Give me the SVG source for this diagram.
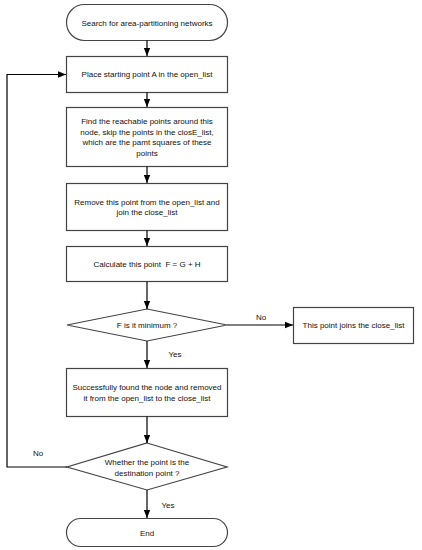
<svg xmlns="http://www.w3.org/2000/svg" width="422" height="550" viewBox="0 0 422 550">
<defs>
<marker id="arr" viewBox="0 0 8 8" refX="8" refY="4" markerWidth="8" markerHeight="8" markerUnits="userSpaceOnUse" orient="auto">
<path d="M0,0.8 L8,4 L0,7.2 Z" fill="#000"/>
</marker>
</defs>
<style>
.shape{fill:#fff;stroke:#444;stroke-width:1.2}
.t{font-family:"Liberation Sans",Arial,sans-serif;font-size:8px;fill:#111;text-anchor:middle;white-space:pre}
.l{font-family:"Liberation Sans",Arial,sans-serif;font-size:8px;fill:#111;text-anchor:middle}
.c{fill:none;stroke:#000;stroke-width:1.2;marker-end:url(#arr)}
</style>
<rect width="422" height="550" fill="#fff"/>
<g id="start">
<rect class="shape" x="66.5" y="4.5" width="161" height="36" rx="18" ry="18"/>
<text class="t" x="147" y="26">Search for area-partitioning networks</text>
</g>
<g id="place">
<rect class="shape" x="66.5" y="56.5" width="161" height="36"/>
<text class="t" x="147" y="77">Place starting point A in the open_list</text>
</g>
<g id="find">
<rect class="shape" x="66.5" y="107.5" width="161" height="59"/>
<text class="t" x="147" y="124">Find the reachable points around this</text>
<text class="t" x="147" y="134.5">node, skip the points in the closE_list,</text>
<text class="t" x="147" y="145">which are the pamt squares of these</text>
<text class="t" x="147" y="155.5">points</text>
</g>
<g id="remove">
<rect class="shape" x="66.5" y="183.5" width="161" height="47"/>
<text class="t" x="147" y="204.5">Remove this point from the open_list and</text>
<text class="t" x="147" y="215">join the close_list</text>
</g>
<g id="calc">
<rect class="shape" x="66.5" y="246.5" width="161" height="35"/>
<text class="t" x="147" y="267" xml:space="preserve">Calculate this point  F = G + H</text>
</g>
<g id="decision1">
<polygon class="shape" points="147,309 227,325 147,341 67,325"/>
<text class="t" x="147" y="328">F is it minimum ?</text>
</g>
<g id="joins">
<rect class="shape" x="293.5" y="307.5" width="120" height="36"/>
<text class="t" x="353.5" y="328">This point joins the close_list</text>
</g>
<g id="found">
<rect class="shape" x="66.5" y="368.5" width="161" height="48"/>
<text class="t" x="147" y="390">Successfully found the node and removed</text>
<text class="t" x="147" y="400.5">it from the open_list to the close_list</text>
</g>
<g id="decision2">
<polygon class="shape" points="147,443 227,467 147,490 67,467"/>
<text class="t" x="147" y="465">Whether the point is the</text>
<text class="t" x="147" y="475.5">destination point ?</text>
</g>
<g id="end">
<rect class="shape" x="66.5" y="518.5" width="161" height="28" rx="14" ry="14"/>
<text class="t" x="147" y="536">End</text>
</g>
<g id="connectors">
<line class="c" x1="147" y1="40.5" x2="147" y2="56"/>
<line class="c" x1="147" y1="92.5" x2="147" y2="107"/>
<line class="c" x1="147" y1="166.5" x2="147" y2="183"/>
<line class="c" x1="147" y1="230.5" x2="147" y2="246"/>
<line class="c" x1="147" y1="281.5" x2="147" y2="309"/>
<line class="c" x1="227" y1="325" x2="293" y2="325"/>
<text class="l" x="261" y="320">No</text>
<line class="c" x1="147" y1="341" x2="147" y2="368"/>
<text class="l" x="175" y="357">Yes</text>
<line class="c" x1="147" y1="416.5" x2="147" y2="443"/>
<line class="c" x1="147" y1="490" x2="147" y2="518"/>
<text class="l" x="168" y="508">Yes</text>
<polyline class="c" points="67,467 7,467 7,74.5 66,74.5"/>
<text class="l" x="38" y="456">No</text>
</g>
</svg>
